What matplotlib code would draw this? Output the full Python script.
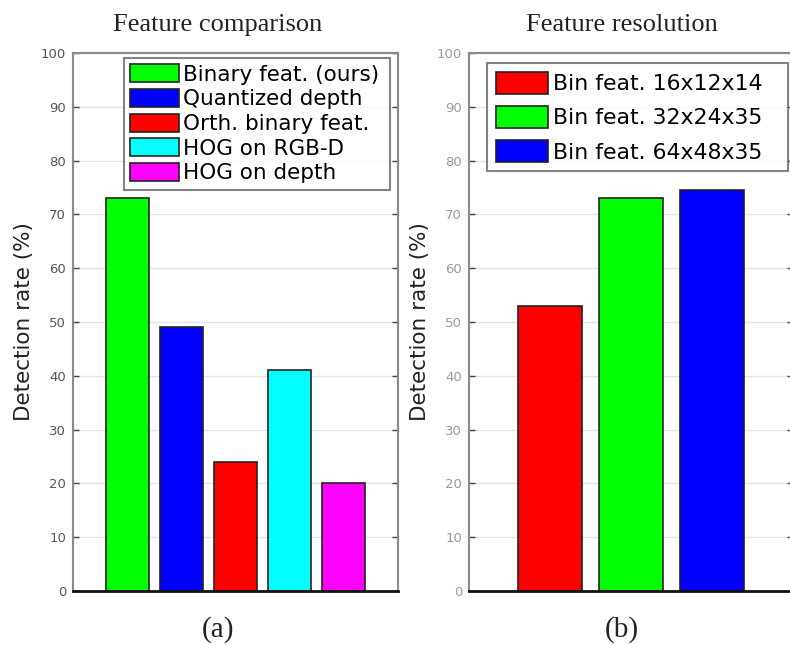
import matplotlib
matplotlib.use("Agg")
import matplotlib.pyplot as plt

# detection rates (%) per feature type
comp_labels = ["Binary feat. (ours)", "Quantized depth", "Orth. binary feat.",
               "HOG on RGB-D", "HOG on depth"]
comp_rates = [73.0, 49.0, 24.0, 41.0, 20.0]
comp_colors = ["#00ff00", "#0000ff", "#ff0000", "#00ffff", "#ff00ff"]

# detection rates (%) per feature resolution
res_labels = ["Bin feat. 16x12x14", "Bin feat. 32x24x35", "Bin feat. 64x48x35"]
res_rates = [53.0, 73.0, 74.5]
res_colors = ["#ff0000", "#00ff00", "#0000ff"]

yticks = list(range(0, 101, 10))

fig = plt.figure(figsize=(7.9, 6.45), dpi=100)
W, H = 790.0, 645.0

def setup_axes(ax, tick_color, nbars):
    ax.set_xlim(0, nbars + 1)
    ax.set_ylim(0, 100)
    ax.set_yticks(yticks)
    ax.set_xticks([])
    ax.tick_params(axis="y", direction="in", length=4, width=1, color="#444444",
                   labelsize=9.5, labelcolor=tick_color, right=True, pad=5)
    ax.grid(True, axis="y", color="#e4e4e4", linewidth=1)
    ax.set_axisbelow(True)
    for side in ["left", "top", "right"]:
        ax.spines[side].set_color("#8a8a8a")
        ax.spines[side].set_linewidth(1.5)
    ax.spines["bottom"].set_color("#111111")
    ax.spines["bottom"].set_linewidth(2)
    ax.set_ylabel("Detection rate (%)", fontsize=15.5, color="#222222", labelpad=5)

#(a) feature comparison
ax1 = fig.add_axes([73 / W, 54 / H, 325 / W, 538 / H])
xs1 = list(range(1, len(comp_rates) + 1))
bars1 = ax1.bar(xs1, comp_rates, width=0.8, color=comp_colors,
                edgecolor="#222222", linewidth=1.2)
setup_axes(ax1, "#555555", len(comp_rates))
# legend box spans a fixed width (mode="expand")
leg1 = ax1.legend(bars1, comp_labels, loc="upper left",
                  bbox_to_anchor=((124 - 73) / 325, 0.5, (390 - 124) / 325, (591 - 58) / 538 - 0.5),
                  mode="expand", borderaxespad=0, fontsize=15.5, labelspacing=0.2,
                  handlelength=2.25, handleheight=0.9, handletextpad=0.2,
                  borderpad=0.3, fancybox=False)
leg1.get_frame().set_edgecolor("#666666")
leg1.get_frame().set_linewidth(1.5)

#(b) feature resolution
ax2 = fig.add_axes([469 / W, 54 / H, 324 / W, 538 / H])
xs2 = list(range(1, len(res_rates) + 1))
bars2 = ax2.bar(xs2, res_rates, width=0.8, color=res_colors,
                edgecolor="#222222", linewidth=1.2)
setup_axes(ax2, "#9a9a9a", len(res_rates))
leg2 = ax2.legend(bars2, res_labels, loc="upper left",
                  bbox_to_anchor=((487 - 469) / 324, 0.5, (788 - 487) / 324, (591 - 63) / 538 - 0.5),
                  mode="expand", borderaxespad=0, fontsize=15.8, labelspacing=0.52,
                  handlelength=2.4, handleheight=1.2, handletextpad=0.2,
                  borderpad=0.4, fancybox=False)
leg2.get_frame().set_edgecolor("#666666")
leg2.get_frame().set_linewidth(1.5)

# titles and captions
serif = ["Liberation Serif", "DejaVu Serif"]
fig.text(218 / W, 1 - 25 / H, "Feature comparison", ha="center", va="center",
         fontsize=19, family=serif, color="#222222")
fig.text(622 / W, 1 - 25 / H, "Feature resolution", ha="center", va="center",
         fontsize=19, family=serif, color="#222222")
fig.text(218 / W, 1 - 630 / H, "(a)", ha="center", va="center",
         fontsize=21, family=serif, color="#222222")
fig.text(622 / W, 1 - 630 / H, "(b)", ha="center", va="center",
         fontsize=21, family=serif, color="#222222")

fig.savefig("out.png", dpi=100)
